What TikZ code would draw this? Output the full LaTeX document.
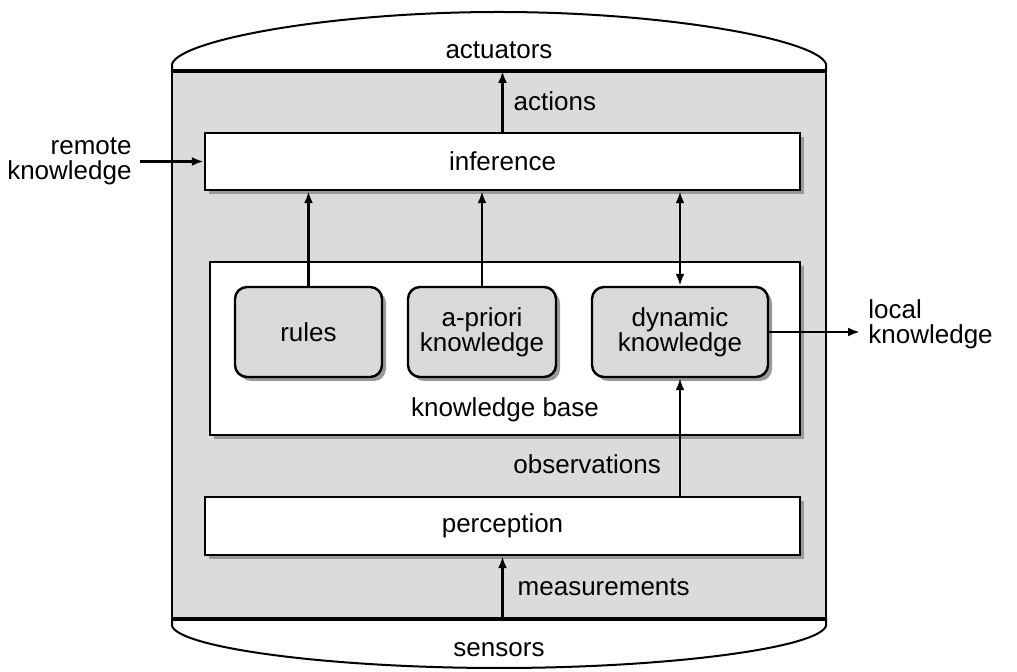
\documentclass[tikz,border=0pt]{standalone}
\usepackage{fontspec}
\setmainfont{Liberation Sans}
\usetikzlibrary{arrows.meta, positioning, shadows}

\begin{document}
\begin{tikzpicture}[
        x=0.5pt, y=-0.5pt,
        >={Latex[length=6pt, width=4.5pt]},
        font=\fontsize{13}{12.5}\selectfont,
        plant/.style={rectangle, draw, line width=1pt, fill=black!14,
                minimum width=327pt, minimum height=273pt},
        layerbox/.style={rectangle, draw, line width=1.2pt, fill=white, align=center,
                drop shadow={shadow xshift=2pt, shadow yshift=-2pt, fill=black!40, opacity=1}},
        unitbox/.style={rectangle, draw, line width=1.2pt, rounded corners=6pt,
                fill=black!15, align=center, minimum height=45pt,
                drop shadow={shadow xshift=2pt, shadow yshift=-2pt, fill=black!40, opacity=1}},
        capline/.style={line width=1pt},
        sepline/.style={line width=1.6pt},
        arrow/.style={->, line width=1.2pt},
        lbl/.style={inner sep=0pt, align=center},
        sidelab/.style={inner sep=4pt}, ]

        \useasboundingbox (0,0) rectangle (1017,672);

        % === PLANT (gray body with caps) ===
        \node[plant] (plant) at (499,345) {};
        \draw[capline] (172,72) -- (172,64) .. controls (180,40) and (330,12) .. (499,12)
                .. controls (668,12) and (818,40) .. (826,64) -- (826,72);
        \draw[capline] (172,618) -- (172,626) .. controls (180,648) and (330,668) .. (499,668)
                .. controls (668,668) and (818,648) .. (826,626) -- (826,618);
        \draw[sepline] (plant.north west) -- (plant.north east);
        \draw[sepline] (plant.south west) -- (plant.south east);
        \node[lbl] (actuators) at (499,50) {actuators};
        \node[lbl] (sensors) at (499,650) {sensors};

        % === LAYERS ===
        \node[layerbox, minimum width=297.5pt, minimum height=28.5pt] (inference) at (502.5,161.5) {inference};
        \node[layerbox, minimum width=295pt, minimum height=86.5pt] (kb) at (505,348.5) {};
        \node[lbl] (kblabel) at (505,410) {knowledge base};
        \node[layerbox, minimum width=297.5pt, minimum height=29pt] (perception) at (502.5,526) {perception};

        % === KNOWLEDGE UNITS ===
        \node[unitbox, minimum width=73.5pt] (rules) at (308.5,332) {rules};
        \node[unitbox, minimum width=74pt] (apriori) at (482,332) {a-priori\\knowledge};
        \node[unitbox, minimum width=88pt] (dynamic) at (680,332) {dynamic\\knowledge};

        % === OUTSIDE LABELS ===
        \node[sidelab, anchor=east, align=right] (remote) at (140,161.5) {remote\\knowledge};
        \node[sidelab, anchor=west, align=left] (local) at (860,324) {local\\knowledge};

        % === CONNECTIONS ===
        \draw[arrow] (inference.north) -- (inference.north |- plant.north)
                node[midway, right=5pt, inner sep=0pt] {actions};
        \draw[arrow] (rules.north) -- (rules.north |- inference.south);
        \draw[arrow] (apriori.north) -- (apriori.north |- inference.south);
        \draw[arrow, <->] (dynamic.north) -- (dynamic.north |- inference.south);
        \draw[arrow] (remote.east) -- (remote.east -| inference.west);
        \draw[arrow] (dynamic.east) -- (dynamic.east -| local.west);
        \draw[arrow] (dynamic.south |- perception.north) -- (dynamic.south)
                node[pos=0.27, left=9pt, inner sep=0pt] {observations};
        \draw[arrow] (perception.south |- plant.south) -- (perception.south)
                node[midway, right=7pt, inner sep=0pt] {measurements};
    \end{tikzpicture}
\end{document}
